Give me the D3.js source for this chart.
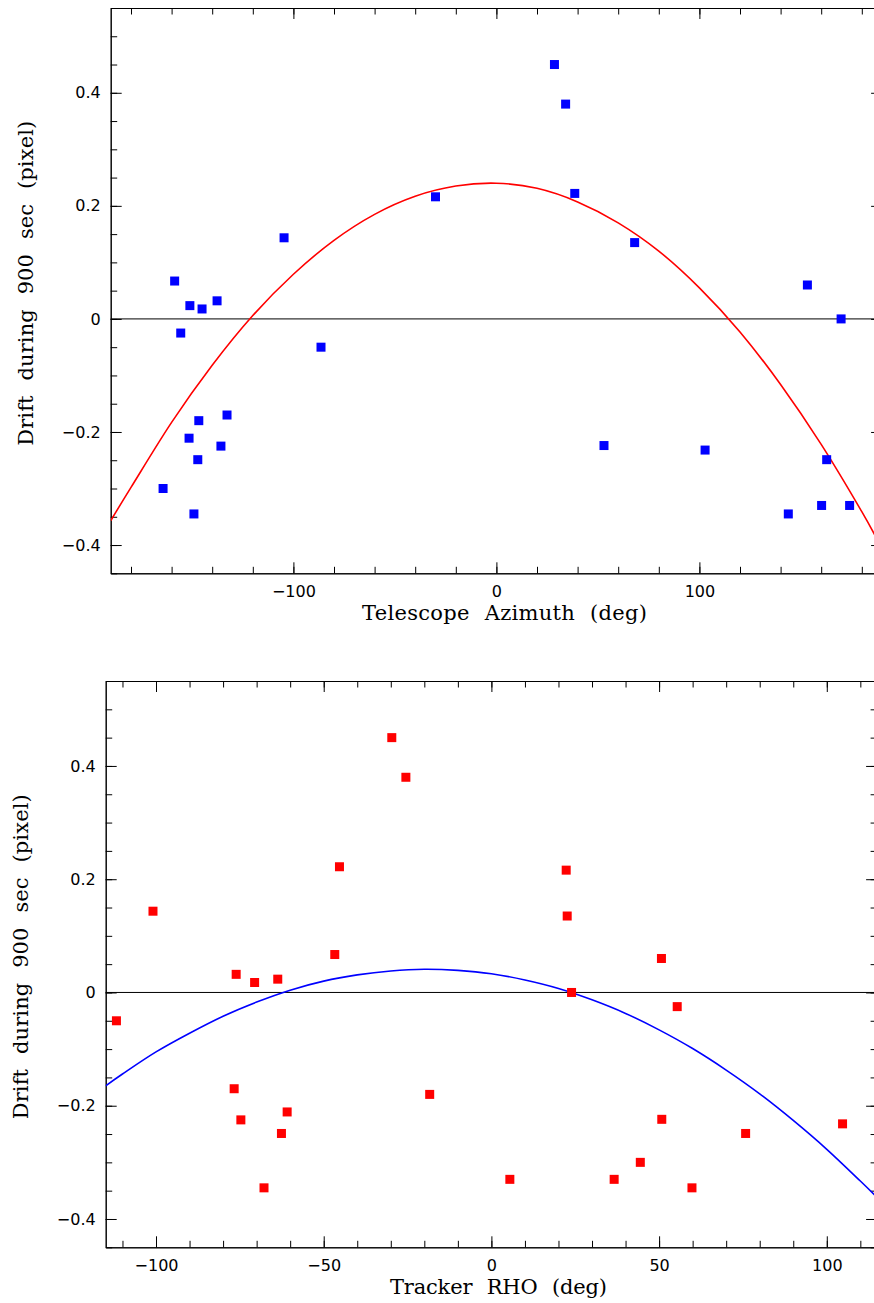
<!DOCTYPE html>
<html>
<head>
<meta charset="utf-8">
<script src="https://cdn.jsdelivr.net/npm/d3@7"></script>
<style>
  html, body { margin: 0; padding: 0; background: #fff; }
  svg { display: block; }
</style>
</head>
<body>
<svg id="chart" width="874" height="1303"></svg>
<script>
// ---------------- data ----------------
const azimuth = [-164.2,-158.5,-155.5,-151,-145,-137.6,-151.4,-146.6,-147.1,-149,-132.7,-135.7,-104.6,-86.4,-30,28.6,34.1,38.6,68.1,53,102.8,143.8,153.2,169.8,162.7,160.2,174];
const rho     = [44.4,-46.7,55.4,-63.7,-70.6,-76.1,-60.9,-18.4,-62.6,-67.8,-76.7,-74.7,-100.9,-111.8,22.3,-29.7,-25.5,-45.3,22.6,50.8,104.7,59.8,50.7,23.9,75.8,5.5,36.6];
const drift   = [-0.300,0.067,-0.025,0.0235,0.0176,0.032,-0.211,-0.180,-0.249,-0.345,-0.170,-0.225,0.1435,-0.050,0.216,0.450,0.380,0.222,0.135,-0.224,-0.232,-0.345,0.060,0.000,-0.249,-0.330,-0.330];

// fitted curves
const fitAzX = [-190,-180,-160,-140,-120,-100,-80,-60,-40,-20,0,20,40,60,80,100,120,140,160,180,190];
const fitAzY = [-0.357,-0.298,-0.183,-0.082,0.006,0.079,0.139,0.185,0.217,0.235,0.240,0.231,0.207,0.170,0.120,0.055,-0.023,-0.116,-0.222,-0.341,-0.407];
const fitRhoX = [-115,-110,-100,-90,-80,-70,-60,-50,-40,-30,-20,-10,0,10,20,30,40,50,60,70,80,90,100,110,115];
const fitRhoY = [-0.165,-0.144,-0.105,-0.072,-0.042,-0.017,0.004,0.020,0.031,0.038,0.041,0.039,0.033,0.022,0.007,-0.013,-0.037,-0.066,-0.099,-0.137,-0.179,-0.226,-0.277,-0.333,-0.362];

// ticks
const yMajor = [-0.4,-0.2,0,0.2,0.4];
const yMinor = d3.range(-0.45,0.551,0.05).map(v => +v.toFixed(2));
const azMajor = [-100,0,100];
const azMinor = d3.range(-180,181,20);
const rhoMajor = [-100,-50,0,50,100];
const rhoMinor = d3.range(-110,111,10);

const yTitle = "Drift during 900 sec (pixel)";

// ---------------- drawing ----------------
const svg = d3.select("#chart");
const fmtY = d => d === 0 ? "0" : d3.format(".1f")(d);
const fmtX = d3.format("d");

function panel(cfg) {
  const g = svg.append("g");
  const x = d3.scaleLinear().domain(cfg.xDomain).range([cfg.left, cfg.left + cfg.width]);
  const y = d3.scaleLinear().domain([-0.45, 0.55]).range([cfg.top + cfg.height, cfg.top]);
  const L = cfg.left, R = cfg.left + cfg.width, T = cfg.top, B = cfg.top + cfg.height;

  function styleAxis(sel) {
    sel.selectAll("path.domain").attr("stroke", "#000").attr("stroke-width", 1);
    sel.selectAll(".tick line").attr("stroke", "#000").attr("stroke-width", 1);
    sel.selectAll("text").attr("font-family", "DejaVu Sans").attr("font-size", 16).attr("fill", "#000");
  }
  // bottom
  g.append("g").attr("transform", `translate(0,${B})`)
    .call(d3.axisBottom(x).tickValues(cfg.xMinor).tickSize(-6.5).tickSizeOuter(0).tickFormat(""))
    .call(styleAxis);
  g.append("g").attr("transform", `translate(0,${B})`)
    .call(d3.axisBottom(x).tickValues(cfg.xMajor).tickSize(-11).tickSizeOuter(0).tickPadding(12.5).tickFormat(fmtX))
    .call(styleAxis);
  // top
  g.append("g").attr("transform", `translate(0,${T})`)
    .call(d3.axisTop(x).tickValues(cfg.xMinor).tickSize(-6.5).tickSizeOuter(0).tickFormat(""))
    .call(styleAxis);
  g.append("g").attr("transform", `translate(0,${T})`)
    .call(d3.axisTop(x).tickValues(cfg.xMajor).tickSize(-11).tickSizeOuter(0).tickFormat(""))
    .call(styleAxis);
  // left
  g.append("g").attr("transform", `translate(${L},0)`)
    .call(d3.axisLeft(y).tickValues(yMinor).tickSize(-6.5).tickSizeOuter(0).tickFormat(""))
    .call(styleAxis);
  g.append("g").attr("transform", `translate(${L},0)`)
    .call(d3.axisLeft(y).tickValues(yMajor).tickSize(-11).tickSizeOuter(0).tickPadding(10).tickFormat(fmtY))
    .call(styleAxis);
  // right
  g.append("g").attr("transform", `translate(${R},0)`)
    .call(d3.axisRight(y).tickValues(yMinor).tickSize(-6.5).tickSizeOuter(0).tickFormat(""))
    .call(styleAxis);
  g.append("g").attr("transform", `translate(${R},0)`)
    .call(d3.axisRight(y).tickValues(yMajor).tickSize(-11).tickSizeOuter(0).tickFormat(""))
    .call(styleAxis);

  // zero line
  g.append("line").attr("x1", L).attr("x2", R).attr("y1", y(0)).attr("y2", y(0))
    .attr("stroke", "#000").attr("stroke-width", 1);

  // clip
  const clipId = "clip" + cfg.id;
  svg.append("clipPath").attr("id", clipId).append("rect")
    .attr("x", L).attr("y", T).attr("width", cfg.width).attr("height", cfg.height);

  // fit curve
  const line = d3.line().x(d => x(d[0])).y(d => y(d[1])).curve(d3.curveCardinal.tension(0));
  g.append("path").attr("clip-path", `url(#${clipId})`)
    .datum(cfg.fitX.map((v, i) => [v, cfg.fitY[i]]))
    .attr("d", line).attr("fill", "none").attr("stroke", cfg.curveColor).attr("stroke-width", 1.6);

  // points
  const s = 9;
  g.append("g").selectAll("rect").data(cfg.xs.map((v, i) => [v, drift[i]])).join("rect")
    .attr("x", d => x(d[0]) - s / 2).attr("y", d => y(d[1]) - s / 2)
    .attr("width", s).attr("height", s).attr("fill", cfg.pointColor);

  // titles
  g.append("text").attr("x", cfg.xTitleX).attr("y", B + 47)
    .attr("text-anchor", "middle").attr("font-family", "DejaVu Serif").attr("font-size", 21)
    .attr("word-spacing", 8)
    .attr("textLength", cfg.xTitleLen).attr("fill", "#000").text(cfg.xTitle);
  g.append("text").attr("transform", `translate(${L - 77.5},${(T + B) / 2 - 7.4}) rotate(-90)`)
    .attr("text-anchor", "middle").attr("font-family", "DejaVu Serif").attr("font-size", 21)
    .attr("word-spacing", 8)
    .attr("textLength", 325).attr("fill", "#000").text(yTitle);
}

panel({ id: "top", left: 110.7, top: 8, width: 771.4, height: 565.3, xDomain: [-190, 190],
  xMajor: azMajor, xMinor: azMinor, xs: azimuth, fitX: fitAzX, fitY: fitAzY,
  curveColor: "#ff0000", pointColor: "#0000ff",
  xTitle: "Telescope Azimuth (deg)", xTitleX: 504.5, xTitleLen: 285 });

panel({ id: "bot", left: 105.7, top: 681, width: 771.4, height: 566.3, xDomain: [-115, 115],
  xMajor: rhoMajor, xMinor: rhoMinor, xs: rho, fitX: fitRhoX, fitY: fitRhoY,
  curveColor: "#0000ff", pointColor: "#ff0000",
  xTitle: "Tracker RHO (deg)", xTitleX: 498.5, xTitleLen: 217 });
</script>
</body>
</html>
